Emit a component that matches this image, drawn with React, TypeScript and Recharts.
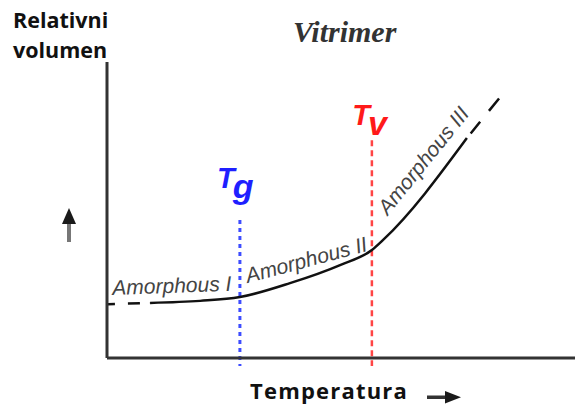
import React from "react";
import { ComposedChart, Line, XAxis, YAxis, ReferenceLine, ReferenceDot } from "recharts";

// curve (x = temperature, y = relative volume, 0..100 both)
const LEAD_X = [0.2, 9.2];
const LEAD_Y = [18.2, 18.6];
const CURVE_X = [9.2, 19.9, 28.4, 39.1, 49.8, 56.6, 59.0, 76.9];
const CURVE_Y = [18.6, 19.3, 20.6, 25.3, 31.4, 36.5, 39.9, 74.3];
const TAIL_X = [76.9, 84.4];
const TAIL_Y = [74.3, 88.9];

// transitions
const TG = 28.4;
const TV = 56.6;
const TG_TOP = 46.6;
const TV_TOP = 73.6;
const LINE_BOTTOM = -2.7;

// phase labels
const PHASES = ["Amorphous I", "Amorphous II", "Amorphous III"];
const PHASE_X = [1.2, 30.1, 60.0];
const PHASE_Y = [21.3, 25.3, 48.0];
const PHASE_ANGLE = [-2, -15, -51];

// transition labels
const T_LABELS = ["g", "v"];
const T_LABEL_X = [23.5, 52.4];
const T_LABEL_Y = [57.4, 78.7];
const T_COLORS = ["#1f1fff", "#ff1a1a"];

const zip = (xs: number[], ys: number[]) => xs.map((x, i) => ({ x, y: ys[i] }));

const W = 575;
const H = 407;
const AXIS = "#333";
const SANS = "'Liberation Sans', Arial, sans-serif";

export default function App() {
  return (
    <div style={{ position: "absolute", left: 0, top: 0, width: W, height: H, background: "#fff" }}>
      <ComposedChart width={W} height={H} margin={{ top: 62, right: 0, left: 87, bottom: 29 }}>
        <XAxis type="number" dataKey="x" domain={[0, 100]} allowDataOverflow tick={false} tickLine={false}
          axisLine={{ stroke: AXIS, strokeWidth: 3 }} height={20} />
        <YAxis type="number" dataKey="y" domain={[0, 100]} allowDataOverflow tick={false} tickLine={false}
          axisLine={{ stroke: AXIS, strokeWidth: 3 }} width={20} />

        <ReferenceLine segment={[{ x: TG, y: TG_TOP }, { x: TG, y: LINE_BOTTOM }]} ifOverflow="visible"
          stroke="#3d4dff" strokeWidth={3} strokeDasharray="4 4" />
        <ReferenceLine segment={[{ x: TV, y: TV_TOP }, { x: TV, y: LINE_BOTTOM }]} ifOverflow="visible"
          stroke="#ff4545" strokeWidth={2.5} strokeDasharray="6 4" />

        <Line data={zip(LEAD_X, LEAD_Y)} dataKey="y" type="linear" stroke="#111" strokeWidth={2.5}
          strokeDasharray="7 13 12 10" dot={false} activeDot={false} isAnimationActive={false} />
        <Line data={zip(CURVE_X, CURVE_Y)} dataKey="y" type="monotone" stroke="#111" strokeWidth={2.5}
          dot={false} activeDot={false} isAnimationActive={false} />
        <Line data={zip(TAIL_X, TAIL_Y)} dataKey="y" type="linear" stroke="#111" strokeWidth={2.5}
          strokeDasharray="0 6 15 14 16 10" dot={false} activeDot={false} isAnimationActive={false} />

        {PHASES.map((name, i) => (
          <ReferenceDot key={name} x={PHASE_X[i]} y={PHASE_Y[i]} r={0} ifOverflow="visible"
            shape={(p: any) => (
              <text x={p.cx} y={p.cy} transform={`rotate(${PHASE_ANGLE[i]} ${p.cx} ${p.cy})`}
                fontFamily={SANS} fontStyle="italic" fontSize={21} fill="#444">{name}</text>
            )} />
        ))}

        {T_LABELS.map((sub, i) => (
          <ReferenceDot key={sub} x={T_LABEL_X[i]} y={T_LABEL_Y[i]} r={0} ifOverflow="visible"
            shape={(p: any) => (
              <text x={p.cx} y={p.cy} fontFamily={SANS} fontStyle="italic" fontWeight="bold" fill={T_COLORS[i]}>
                <tspan fontSize={29}>T</tspan>
                <tspan fontSize={34} dy={10} dx={-2}>{sub}</tspan>
              </text>
            )} />
        ))}
      </ComposedChart>

      <svg width={W} height={H} style={{ position: "absolute", left: 0, top: 0, pointerEvents: "none" }}>
        <text x={13} y={28} fontFamily="'Open Sans', sans-serif" fontWeight="bold" fontSize={21.5} fill="#111">Relativni</text>
        <text x={13} y={58} fontFamily="'Open Sans', sans-serif" fontWeight="bold" fontSize={21.5} fill="#111">volumen</text>
        <text x={293} y={42} fontFamily="'Liberation Serif', serif" fontStyle="italic" fontWeight="bold" fontSize={30} fill="#333">Vitrimer</text>
        <text x={250} y={399} fontFamily="'Open Sans', sans-serif" fontWeight="bold" fontSize={22} fill="#111" letterSpacing={1.2}>Temperatura</text>
        {/* up arrow */}
        <rect x={67} y={223} width={4} height={19} fill="#777" />
        <polygon points="69,208 76,224 62,224" fill="#1a1a1a" />
        {/* right arrow */}
        <rect x={427} y={395.5} width={19} height={3.5} fill="#333" />
        <polygon points="445,391 461,397.2 445,403.5" fill="#1a1a1a" />
      </svg>
    </div>
  );
}
